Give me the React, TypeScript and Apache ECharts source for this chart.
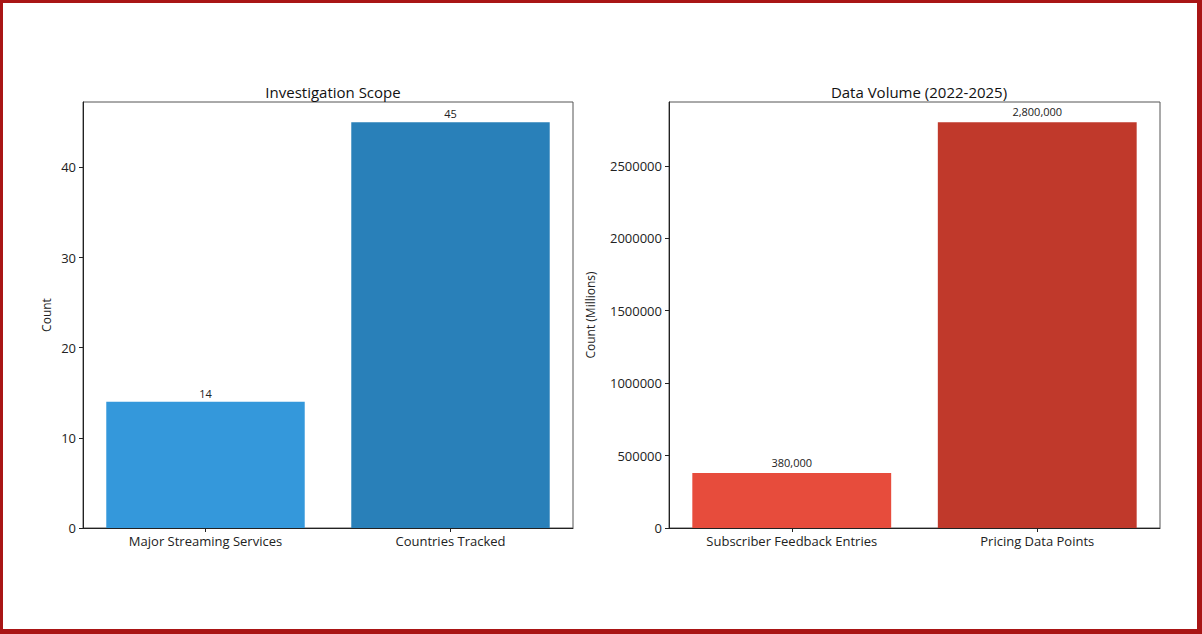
import React, { useEffect, useRef } from "react";
import * as echarts from "echarts";

const scopeCategories = ["Major Streaming Services", "Countries Tracked"];
const scopeValues = [14, 45];
const scopeColors = ["#3498db", "#2980b9"];
const scopeTicks = [0, 10, 20, 30, 40];

const volumeCategories = ["Subscriber Feedback Entries", "Pricing Data Points"];
const volumeValues = [380000, 2800000];
const volumeColors = ["#e74c3c", "#c0392b"];
const volumeTicks = [0, 500000, 1000000, 1500000, 2000000, 2500000];

const FONT = "'Open Sans', Roboto, sans-serif";

export default function App() {
  const ref = useRef<HTMLDivElement>(null);
  useEffect(() => {
    if (!ref.current) return;
    const chart = echarts.init(ref.current, undefined, { renderer: "svg" });
    const axisLine = { show: true, lineStyle: { color: "#222", width: 1 } };
    const axisTick = { show: true, length: 4, lineStyle: { color: "#222" } };
    const labelStyle = { color: "#222", fontSize: 13, fontFamily: FONT };
    const fmt = (v: number) => v.toLocaleString("en-US");
    chart.setOption({
      animation: false,
      backgroundColor: "#ffffff",
      textStyle: { fontFamily: FONT },
      title: [
        {
          text: "Investigation Scope",
          left: 328,
          top: 79,
          textAlign: "center",
          textStyle: { fontSize: 15, fontWeight: "normal", color: "#111", fontFamily: FONT },
        },
        {
          text: "Data Volume (2022-2025)",
          left: 914,
          top: 79,
          textAlign: "center",
          textStyle: { fontSize: 15, fontWeight: "normal", color: "#111", fontFamily: FONT },
        },
      ],
      grid: [
        { left: 83, top: 102, width: 490, height: 426, show: true, borderColor: "#555", borderWidth: 1, backgroundColor: "transparent" },
        { left: 669, top: 102, width: 491, height: 426, show: true, borderColor: "#555", borderWidth: 1, backgroundColor: "transparent" },
      ],
      xAxis: [
        {
          type: "category",
          gridIndex: 0,
          data: scopeCategories,
          axisLine,
          axisTick: { ...axisTick, alignWithLabel: true },
          axisLabel: { ...labelStyle, margin: 6 },
        },
        {
          type: "category",
          gridIndex: 1,
          data: volumeCategories,
          axisLine,
          axisTick: { ...axisTick, alignWithLabel: true },
          axisLabel: { ...labelStyle, margin: 6 },
        },
      ],
      yAxis: [
        {
          type: "value",
          gridIndex: 0,
          min: scopeTicks[0],
          max: 47.25,
          interval: 10,
          name: "Count",
          nameLocation: "middle",
          nameGap: 31,
          nameTextStyle: { color: "#222", fontSize: 12, fontFamily: FONT },
          axisLine,
          axisTick,
          splitLine: { show: false },
          axisLabel: { ...labelStyle, margin: 7, showMaxLabel: false },
        },
        {
          type: "value",
          gridIndex: 1,
          min: volumeTicks[0],
          max: 2940000,
          interval: 500000,
          name: "Count (Millions)",
          nameLocation: "middle",
          nameGap: 73,
          nameTextStyle: { color: "#222", fontSize: 12, fontFamily: FONT },
          axisLine,
          axisTick,
          splitLine: { show: false },
          axisLabel: { ...labelStyle, margin: 7, showMaxLabel: false, formatter: (v: number) => String(v) },
        },
      ],
      series: [
        {
          type: "bar",
          xAxisIndex: 0,
          yAxisIndex: 0,
          barCategoryGap: "19%",
          data: scopeValues.map((v, i) => ({ value: v, itemStyle: { color: scopeColors[i] } })),
          label: {
            show: true,
            position: "top",
            distance: 3,
            fontSize: 11,
            color: "#222",
            fontFamily: FONT,
          },
        },
        {
          type: "bar",
          xAxisIndex: 1,
          yAxisIndex: 1,
          barCategoryGap: "19%",
          data: volumeValues.map((v, i) => ({ value: v, itemStyle: { color: volumeColors[i] } })),
          label: {
            show: true,
            position: "top",
            distance: 5,
            fontSize: 11,
            color: "#222",
            fontFamily: FONT,
            formatter: (p: any) => fmt(p.value),
          },
        },
      ],
    });
    return () => chart.dispose();
  }, []);
  return (
    <div style={{ position: "fixed", left: 0, top: 0, width: 1202, height: 634 }}>
      <div ref={ref} style={{ position: "absolute", left: 0, top: 0, width: 1202, height: 634 }} />
      <div
        style={{
          position: "absolute",
          left: 0,
          top: 0,
          width: 1202,
          height: 634,
          boxSizing: "border-box",
          borderStyle: "solid",
          borderColor: "#a91515",
          borderWidth: "3px 5px 5px 3px",
          pointerEvents: "none",
        }}
      />
    </div>
  );
}
